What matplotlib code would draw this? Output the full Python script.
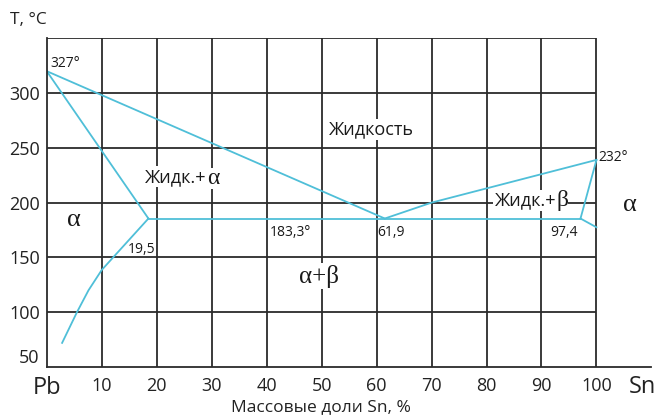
import matplotlib
matplotlib.use("Agg")
from matplotlib import pyplot as plt

plt.rcParams['font.family'] = ['Open Sans', 'DejaVu Sans']

# grid / ticks
x_ticks = [10, 20, 30, 40, 50, 60, 70, 80, 90, 100]
y_ticks = [50, 100, 150, 200, 250, 300]

# phase boundaries (as drawn)
liq_left_x = [0, 61.5]
liq_left_t = [320, 185.5]
liq_right_x = [61.5, 70, 100]
liq_right_t = [185.5, 200, 239]
sol_a_x = [0, 18.5]
sol_a_t = [320, 185.5]
solv_a_x = [18.5, 10, 7.6, 5.5, 2.8]
solv_a_t = [185.5, 138.5, 120, 100, 72]
eut_x = [18.5, 97.1]
eut_t = [185.5, 185.5]
sol_b_x = [97.1, 100]
sol_b_t = [185.5, 239]
solv_b_x = [97.1, 100]
solv_b_t = [185.5, 177.5]

grid_c = '#2b2b2b'
line_c = '#4fbfd8'
txt_c = '#1a1a1a'
greek = 'Liberation Serif'

fig = plt.figure(figsize=[6.58, 4.16], dpi=100)
ax = fig.add_axes([0.071, 0.1178, 0.919, 0.7902])
ax.set_xlim(0, 110)
ax.set_ylim(50, 350)

for s in ['top', 'right']:
    ax.spines[s].set_visible(False)
ax.spines['left'].set_bounds(50, 350)
for s in ['left', 'bottom']:
    ax.spines[s].set_color(grid_c)
    ax.spines[s].set_linewidth(1.3)

ax.vlines(x_ticks, 50, 350, color=grid_c, linewidth=1.3, zorder=1)
ax.hlines(y_ticks[1:] + [350], 0, 100, color=grid_c, linewidth=1.3, zorder=1)

lw = 1.3
ax.plot(liq_left_x, liq_left_t, color=line_c, lw=lw, zorder=2)
ax.plot(liq_right_x, liq_right_t, color=line_c, lw=lw, zorder=2)
ax.plot(sol_a_x, sol_a_t, color=line_c, lw=lw, zorder=2)
ax.plot(solv_a_x, solv_a_t, color=line_c, lw=lw, zorder=2)
ax.plot(eut_x, eut_t, color=line_c, lw=lw, zorder=2)
ax.plot(sol_b_x, sol_b_t, color=line_c, lw=lw, zorder=2)
ax.plot(solv_b_x, solv_b_t, color=line_c, lw=lw, zorder=2)

ax.set_xticks(x_ticks)
ax.set_yticks(y_ticks)
ax.tick_params(length=0, labelsize=13, colors='#222222')
ax.tick_params(axis='x', pad=7)
ax.tick_params(axis='y', pad=5)
ax.get_yticklabels()[0].set_va('bottom')

wb = dict(facecolor='white', edgecolor='none', pad=1)
wb0 = dict(facecolor='white', edgecolor='none', pad=0)
kw = dict(color=txt_c)
ax.text(0.6, 327, '327°', fontsize=10, ha='left', va='center', zorder=3, **kw)
ax.text(100.4, 241, '232°', fontsize=10, ha='left', va='center', zorder=3, **kw)
ax.text(59.0, 267, 'Жидкость', fontsize=13, ha='center', va='center', bbox=wb, zorder=3, **kw)

t1 = ax.text(17.9, 223.5, 'Жидк.+', fontsize=13, ha='left', va='center', bbox=wb, zorder=4, **kw)
ax.annotate('α', xy=(1, 0.42), xycoords=t1, fontsize=17, family=greek,
            ha='left', va='center', bbox=wb0, zorder=3, **kw)
t2 = ax.text(81.5, 202, 'Жидк.+', fontsize=13, ha='left', va='center', bbox=wb, zorder=4, **kw)
ax.annotate('β', xy=(1, 0.5), xycoords=t2, fontsize=17, family=greek,
            ha='left', va='center', bbox=wb0, zorder=3, **kw)

ax.text(49.5, 133, 'α+β', fontsize=18, family=greek, ha='center', va='center', bbox=wb, zorder=3, **kw)
ax.text(4.9, 184, 'α', fontsize=19, family=greek, ha='center', va='center', zorder=3, **kw)
ax.text(106.1, 198, 'α', fontsize=19, family=greek, ha='center', va='center', zorder=3, **kw)
ax.text(17.2, 157, '19,5', fontsize=10, ha='center', va='center', zorder=3, **kw)
ax.text(40.6, 173, '183,3°', fontsize=10, ha='left', va='center', zorder=3, **kw)
ax.text(60.1, 173, '61,9', fontsize=10, ha='left', va='center', zorder=3, **kw)
ax.text(94.1, 173, '97,4', fontsize=10, ha='center', va='center', zorder=3, **kw)

fig.text(10 / 658, 1 - 20 / 416, 'T, °C', fontsize=12.5, ha='left', va='center', color='#222222')
fig.text(47 / 658, 1 - 388 / 416, 'Pb', fontsize=17, ha='center', va='center', color='#222222')
fig.text(642 / 658, 1 - 387 / 416, 'Sn', fontsize=17, ha='center', va='center', color='#222222')
fig.text(321 / 658, 1 - 407 / 416, 'Массовые доли Sn, %', fontsize=12.5, ha='center', va='center', color='#222222')

fig.savefig('out.png', dpi=100)
